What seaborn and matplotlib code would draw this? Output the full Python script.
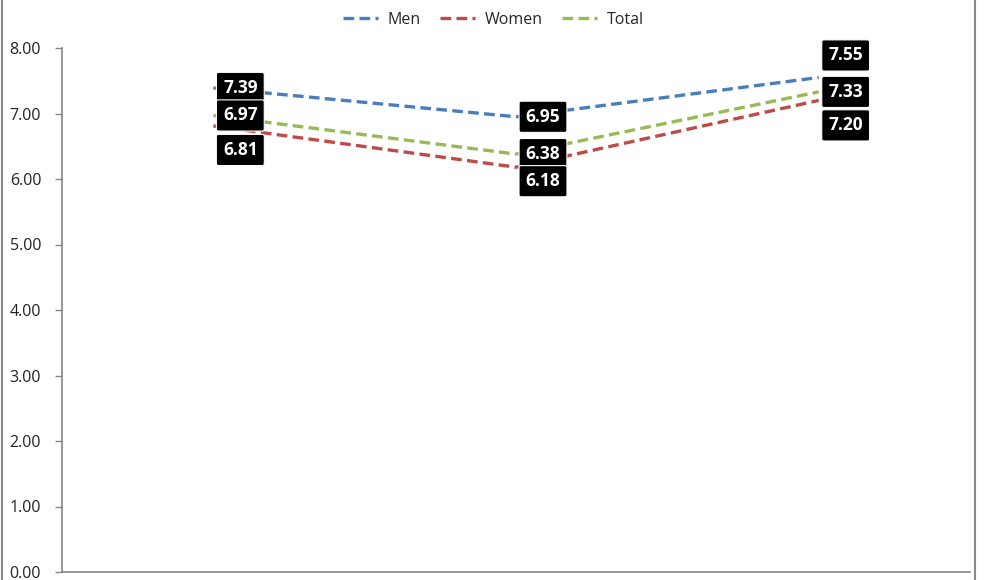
import numpy as np
import pandas as pd
import seaborn as sns
from matplotlib import pyplot as plt
from matplotlib.lines import Line2D

# data
positions = [0, 1, 2]
men = [7.39, 6.95, 7.55]
women = [6.81, 6.18, 7.20]
total = [6.97, 6.38, 7.33]
yticks = [0, 1, 2, 3, 4, 5, 6, 7, 8]

# vertical nudges (pixels) for labels that would otherwise overlap
nudge_men = [0, 0, 22]
nudge_women = [-24, -14, -25]
nudge_total = [0, 0, 0]

sns.set_theme(style="white")
plt.rcParams['font.family'] = ['Open Sans', 'DejaVu Sans']

df = pd.DataFrame({
    'pos': positions * 3,
    'value': men + women + total,
    'series': ['Men'] * 3 + ['Women'] * 3 + ['Total'] * 3,
})
palette = {'Men': '#4a7ebb', 'Women': '#be4b48', 'Total': '#98b954'}
dash = (3.2, 1.6)

fig = plt.figure(figsize=(9.87, 5.80), dpi=100)
ax = fig.add_axes([62 / 987, 8 / 580, 908 / 987, 524 / 580])

sns.lineplot(data=df, x='pos', y='value', hue='series', style='series',
             palette=palette, dashes={'Men': dash, 'Women': dash, 'Total': dash},
             linewidth=2.4, ax=ax, legend=False)

ax.set_xlim(-0.5, 2.5)
ax.set_ylim(0, 8)
ax.set_yticks(yticks)
ax.set_yticklabels([f"{v:.2f}" for v in yticks], fontsize=11.5, color='#222222')
ax.set_xticks([])
ax.set_xlabel('')
ax.set_ylabel('')
for side in ['top', 'right']:
    ax.spines[side].set_visible(False)
for side in ['left', 'bottom']:
    ax.spines[side].set_color('#868686')
    ax.spines[side].set_linewidth(1.2)
ax.tick_params(axis='y', left=True, length=5, width=1, color='#868686', pad=10)

# data labels in black boxes, to the right of each point
for vals, nudges in [(men, nudge_men), (total, nudge_total), (women, nudge_women)]:
    for x, v, n in zip(positions, vals, nudges):
        ax.annotate(f"{v:.2f}", xy=(x, v), xytext=(27, n),
                    textcoords='offset pixels', ha='center', va='center',
                    fontsize=12.5, fontweight='bold', color='white',
                    bbox=dict(boxstyle='round,pad=0.38,rounding_size=0.12',
                              fc='black', ec='white', lw=0.8))

handles = [Line2D([], [], color=palette[k], lw=2.4, linestyle=(0, dash))
           for k in ['Men', 'Women', 'Total']]
fig.legend(handles, ['Men', 'Women', 'Total'], loc='upper center',
           bbox_to_anchor=(0.5, 1.004), ncol=3, frameon=False, fontsize=11.5,
           handlelength=2.2, columnspacing=1.2, handletextpad=0.6)

# outer chart frame edges
fig.add_artist(Line2D([2.5 / 987, 2.5 / 987], [0, 1], color='#888888', lw=1.5))
fig.add_artist(Line2D([975.5 / 987, 975.5 / 987], [0, 1], color='#888888', lw=1.5))

fig.savefig('out.png', dpi=100)
